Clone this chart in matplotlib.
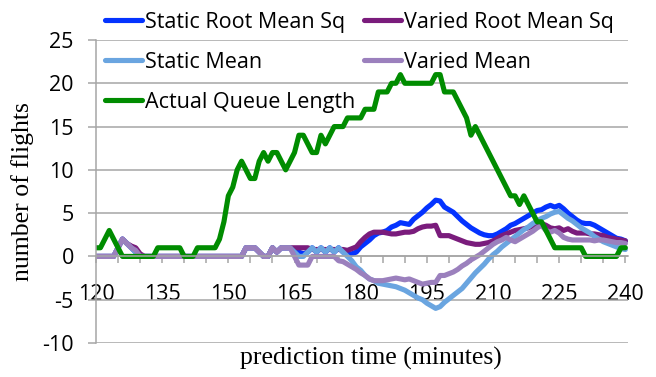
import matplotlib
matplotlib.use("Agg")
import matplotlib.pyplot as plt

# prediction time axis (minutes)
minutes = list(range(120, 241))

static_rms = [
    0, 0, 0, 0, 0, 1, 2, 1.5, 1, 0.5,
    0, 0, 0, 0, 0, 0, 0, 0, 0, 0,
    0, 0, 0, 0, 0, 0, 0, 0, 0, 0,
    0, 0, 0, 0, 1, 1, 1, 0.5, 0, 0,
    1, 0.5, 1, 1, 1, 0.5, 0.5, 0.3, 0.5, 1,
    0.5, 1, 0.5, 1, 0.5, 1, 0.5, 0.3, 0.3, 0.5,
    1.1, 1.5, 1.9, 2.4, 2.7, 2.8, 3.0, 3.4, 3.6, 3.9,
    3.8, 3.7, 4.3, 4.7, 5.1, 5.6, 6.0, 6.5, 6.4, 5.7,
    5.4, 5.1, 4.6, 4.1, 3.7, 3.3, 3.0, 2.7, 2.5, 2.4,
    2.4, 2.6, 2.9, 3.2, 3.6, 3.8, 4.1, 4.4, 4.7, 5.0,
    5.3, 5.4, 5.7, 5.9, 5.7, 5.9, 5.5, 5.0, 4.6, 4.2,
    3.9, 3.8, 3.8, 3.6, 3.3, 3.0, 2.7, 2.4, 2.1, 2.0,
    1.8,
]

varied_rms = [
    0, 0, 0, 0, 0, 1, 2, 1.5, 1.2, 1,
    0.3, 0, 0, 0, 0, 0, 0, 0, 0, 0,
    0, 0, 0, 0, 0, 0, 0, 0, 0, 0,
    0, 0, 0, 0, 1, 1, 1, 0.5, 0, 0,
    1, 0.5, 1, 1, 1, 1, 1, 1, 1, 0.8,
    0.8, 0.8, 0.8, 0.8, 0.8, 0.8, 0.8, 0.7, 0.9, 1.1,
    1.7, 2.2, 2.6, 2.8, 2.8, 2.8, 2.7, 2.6, 2.6, 2.7,
    2.8, 2.8, 2.9, 3.2, 3.4, 3.5, 3.5, 3.6, 2.4, 2.4,
    2.4, 2.2, 2.0, 1.8, 1.6, 1.5, 1.4, 1.4, 1.5, 1.6,
    1.8, 2.1, 2.4, 2.6, 2.8, 3.0, 3.1, 3.2, 3.3, 3.5,
    3.7, 3.8, 3.6, 3.3, 3.2, 3.3, 3.0, 3.2, 2.9, 2.7,
    2.7, 2.7, 2.6, 2.6, 2.5, 2.4, 2.2, 2.1, 2.0, 1.9,
    1.8,
]

static_mean = [
    0, 0, 0, 0, 0, 1, 2, 1.5, 1, 0.5,
    0, 0, 0, 0, 0, 0, 0, 0, 0, 0,
    0, 0, 0, 0, 0, 0, 0, 0, 0, 0,
    0, 0, 0, 0, 1, 1, 1, 0.5, 0, 0,
    1, 0.5, 1, 1, 1, 0.5, 0, 0, 0.5, 1,
    0.5, 1, 0.5, 1, 0.5, 1, 0.5, 0, -0.5, -1.2,
    -1.6, -2.2, -2.6, -2.8, -3.1, -3.2, -3.3, -3.4, -3.5, -3.7,
    -3.9, -4.2, -4.5, -4.8, -5.0, -5.4, -5.7, -6.0, -5.8, -5.3,
    -4.9, -4.5, -4.1, -3.7, -3.1, -2.5, -1.9, -1.4, -0.9, -0.3,
    0.2, 0.6, 1.1, 1.5, 1.9, 2.3, 2.7, 3.1, 3.4, 3.8,
    4.1, 4.4, 4.6, 4.9, 5.1, 5.2, 4.8, 4.4, 4.1, 3.7,
    3.3, 3.0, 2.7, 2.3, 2.0, 1.7, 1.5, 1.3, 1.1, 0.9,
    0.8,
]

varied_mean = [
    0, 0, 0, 0, 0, 1, 2, 1.5, 1, 0.7,
    0, 0, 0, 0, 0, 0, 0, 0, 0, 0,
    0, 0, 0, 0, 0, 0, 0, 0, 0, 0,
    0, 0, 0, 0, 1, 1, 1, 0.5, 0, 0,
    1, 0.5, 1, 1, 1, 0, -1, -1, -1, 0,
    0, 0, 0, 0, 0, -0.5, -0.6, -0.9, -1.2, -1.5,
    -1.9, -2.2, -2.6, -2.8, -2.8, -2.8, -2.7, -2.6, -2.5, -2.6,
    -2.7, -2.6, -2.8, -3.0, -3.2, -3.1, -3.0, -3.0, -2.2, -2.2,
    -2.0, -1.8, -1.5, -1.1, -0.8, -0.4, -0.1, 0.2, 0.6, 1.0,
    1.4, 1.7, 1.9, 2.2, 1.9, 1.7, 2.0, 2.3, 2.6, 2.9,
    3.3, 3.6, 3.0, 2.8, 3.0, 2.7, 2.2, 2.0, 1.9, 1.9,
    1.9, 1.9, 1.9, 1.8, 1.9, 1.9, 1.8, 1.7, 1.6, 1.6,
    1.5,
]

queue_length = [
    1, 1, 2, 3, 2, 1, 0, 0, 0, 0,
    0, 0, 0, 0, 1, 1, 1, 1, 1, 1,
    0, 0, 0, 1, 1, 1, 1, 1, 2, 4,
    7, 8, 10, 11, 10, 9, 9, 11, 12, 11,
    12, 12, 11, 10, 11, 12, 14, 14, 13, 12,
    12, 14, 13, 14, 15, 15, 15, 16, 16, 16,
    16, 17, 17, 17, 19, 19, 19, 20, 20, 21,
    20, 20, 20, 20, 20, 20, 20, 21, 21, 19,
    19, 19, 18, 17, 16, 14, 15, 14, 13, 12,
    11, 10, 9, 8, 7, 7, 6, 7, 6, 5,
    4, 4, 3, 2, 1, 1, 1, 1, 1, 1,
    1, 0, 0, 0, 0, 0, 0, 0, 0, 1,
    1,
]

x_ticks = list(range(120, 241, 5))
x_labels = [str(t) if (t - 120) % 15 == 0 else "" for t in x_ticks]
y_ticks = [-10, -5, 0, 5, 10, 15, 20, 25]

W, H = 656, 377
grid_col = "#a6a6a6"
tick_font = "Open Sans"
fs = 15.5

fig = plt.figure(figsize=(W / 100, H / 100), dpi=100)
ax = fig.add_axes([96 / W, 1 - 343 / H, (628 - 96) / W, (343 - 40) / H])

series = [
    ("Static Root Mean Sq", static_rms, "#0433ff"),
    ("Varied Root Mean Sq", varied_rms, "#7a1c7c"),
    ("Static Mean", static_mean, "#6aa5e0"),
    ("Varied Mean", varied_mean, "#9b80bd"),
    ("Actual Queue Length", queue_length, "#008c00"),
]
lines = {}
for name, vals, col in series:
    ln, = ax.plot(minutes, vals, color=col, lw=3.7, label=name,
                  solid_joinstyle="round", solid_capstyle="round")
    lines[name] = ln

# spines first: moving the bottom spine rebuilds the x ticks
for s in ("top", "right"):
    ax.spines[s].set_visible(False)
ax.spines["bottom"].set_position(("data", 0))
for s in ("bottom", "left"):
    ax.spines[s].set_color(grid_col)
    ax.spines[s].set_linewidth(1.1)

ax.set_xlim(120, 240.6)
ax.set_ylim(-10, 25)
ax.set_yticks(y_ticks)
ax.set_yticklabels([str(v) for v in y_ticks])
ax.set_xticks(x_ticks)
ax.set_xticklabels(x_labels)
ax.yaxis.grid(True, color=grid_col, lw=1.1)
ax.set_axisbelow(True)

ax.tick_params(axis="both", labelsize=fs, labelfontfamily=tick_font)
ax.tick_params(axis="y", direction="out", length=6, width=1.1, color=grid_col, pad=10)
ax.tick_params(axis="x", direction="out", length=5, width=1.1, color=grid_col, pad=15)

fig.text(371 / W, 1 - 358 / H, "prediction time (minutes)", ha="center", va="center",
         fontfamily="Liberation Serif", fontsize=18.5)
fig.text(23 / W, 1 - 192 / H, "number of flights", ha="center", va="center",
         rotation=90, fontfamily="Liberation Serif", fontsize=18.5)

leg_kw = dict(loc="upper left", frameon=False, borderpad=0, borderaxespad=0,
              handlelength=1.7, handletextpad=0.15, labelspacing=0.88,
              prop={"family": tick_font, "size": fs},
              bbox_transform=fig.transFigure)
left_names = ["Static Root Mean Sq", "Static Mean", "Actual Queue Length"]
right_names = ["Varied Root Mean Sq", "Varied Mean"]
leg1 = ax.legend([lines[n] for n in left_names], left_names,
                 bbox_to_anchor=(105 / W, 1 - 12 / H), **leg_kw)
ax.add_artist(leg1)
ax.legend([lines[n] for n in right_names], right_names,
          bbox_to_anchor=(364 / W, 1 - 12 / H), **leg_kw)

fig.savefig("out.png", dpi=100)
